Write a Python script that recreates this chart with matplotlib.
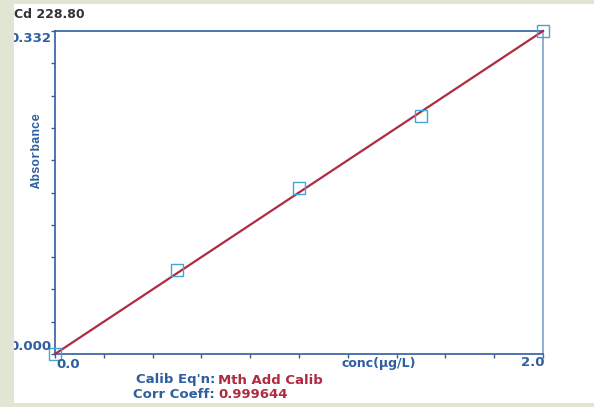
import matplotlib
matplotlib.use("Agg")
import matplotlib.pyplot as plt
from matplotlib.patches import Rectangle
import numpy as np

# Data
conc = [0.0, 0.5, 1.0, 1.5, 2.0]
absorb = [0.000, 0.0863, 0.1706, 0.2446, 0.332]
fit_x = [0.0, 2.0]
fit_y = [0.000, 0.332]
title = "Cd 228.80"
ytick_labels = ["0.000", "0.332"]
xtick_labels = ["0.0", "2.0"]
xlabel = "conc(\u00b5g/L)"
ylabel = "Absorbance"
eq_label, eq_value = "Calib Eq'n:", "Mth Add Calib"
cc_label, cc_value = "Corr Coeff:", "0.999644"

W, H = 594, 407
BG = "#e1e6d4"
BLUE = "#2f5f9f"
RED = "#b02a40"
MARK = "#3fa6d6"

fig = plt.figure(figsize=(W / 100, H / 100), dpi=100, facecolor=BG)

def fx(px):
    return px / W

def fy(py):
    return 1 - py / H

# white panel
fig.patches.append(Rectangle((fx(14), fy(403)), fx(W - 14), (403 - 4) / H,
                             transform=fig.transFigure, facecolor="white",
                             edgecolor="none", zorder=-5))

ax = fig.add_axes([fx(55), fy(354), fx(543 - 55), (354 - 31) / H])
ax.set_zorder(2)
ax.set_facecolor("white")
ax.set_xlim(0, 2.0)
ax.set_ylim(0, 0.332)

ax.plot(fit_x, fit_y, color=RED, lw=1.6, zorder=3, clip_on=False)
ax.plot(conc, absorb, linestyle="none", marker="s", markersize=8.5,
        markerfacecolor="none", markeredgecolor=MARK, markeredgewidth=1.0,
        zorder=4, clip_on=False)

for s in ["left", "top", "bottom"]:
    ax.spines[s].set_color(BLUE)
    ax.spines[s].set_linewidth(1.2)
ax.spines["right"].set_color("#7ea2cc")
ax.spines["right"].set_linewidth(1.2)

ax.set_xticks(np.arange(0, 2.0001, 0.2))
ax.set_yticks(np.linspace(0, 0.332, 11))
ax.tick_params(axis="both", direction="out", length=3, width=1.0, color=BLUE,
               labelbottom=False, labelleft=False)

bold = dict(fontweight="bold", fontfamily="DejaVu Sans")

# y tick labels
fig.text(fx(51), fy(346), ytick_labels[0], ha="right", va="center",
         color=BLUE, fontsize=9.5, zorder=5, **bold)
fig.text(fx(51), fy(39), ytick_labels[1], ha="right", va="center",
         color=BLUE, fontsize=9.5, zorder=5, **bold)
# x tick labels
fig.text(fx(56), fy(365), xtick_labels[0], ha="left", va="center",
         color=BLUE, fontsize=9.5, zorder=5, **bold)
fig.text(fx(544), fy(363), xtick_labels[1], ha="right", va="center",
         color=BLUE, fontsize=9.5, zorder=5, **bold)
fig.text(fx(341), fy(363), xlabel, ha="left", va="center",
         color=BLUE, fontsize=9, zorder=5, **bold)

# y label
fig.text(fx(37), fy(150), ylabel, ha="center", va="center", rotation=90,
         color=BLUE, fontsize=9, fontweight="bold",
         family=["Liberation Mono", "DejaVu Sans Mono"], zorder=5)

# title
fig.text(fx(14), fy(15), title, ha="left", va="center", color="#333333",
         fontsize=9, zorder=5, **bold)

# bottom annotations
fig.text(fx(215), fy(380), eq_label, ha="right", va="center", color=BLUE,
         fontsize=9.5, zorder=5, **bold)
fig.text(fx(218), fy(380), eq_value, ha="left", va="center", color=RED,
         fontsize=9.5, zorder=5, **bold)
fig.text(fx(215), fy(395), cc_label, ha="right", va="center", color=BLUE,
         fontsize=9.5, zorder=5, **bold)
fig.text(fx(218), fy(395), cc_value, ha="left", va="center", color=RED,
         fontsize=9.5, zorder=5, **bold)

# left background strip covers clipped text
fig.patches.append(Rectangle((0, 0), fx(14), 1, transform=fig.transFigure,
                             facecolor=BG, edgecolor="none", zorder=10))

fig.savefig("out.png", dpi=100, facecolor=BG)
